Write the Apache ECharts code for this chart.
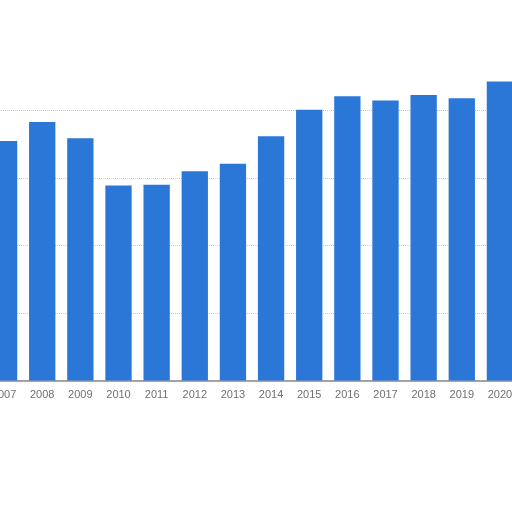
<!DOCTYPE html>
<html><head><meta charset="utf-8">
<script src="https://cdn.jsdelivr.net/npm/echarts@6/dist/echarts.min.js"></script>
<style>html,body{margin:0;padding:0;background:#fff;overflow:hidden;width:512px;height:512px}#c{position:absolute;left:-15px;top:0;width:534px;height:512px}</style>
</head><body><div id="c"></div>
<script>
var categories = ['2007','2008','2009','2010','2011','2012','2013','2014','2015','2016','2017','2018','2019','2020'];
var values = [35.5, 38.3, 35.9, 28.9, 29.0, 31.0, 32.1, 36.2, 40.1, 42.1, 41.5, 42.3, 41.8, 44.3];
var chart = echarts.init(document.getElementById('c'));
chart.setOption({
  animation: false,
  grid: { left: 0, right: 0, top: 110.5, bottom: 131.5, containLabel: false },
  xAxis: {
    type: 'category', data: categories,
    axisLine: { lineStyle: { color: '#888', width: 1.5 } },
    axisTick: { show: false },
    axisLabel: { color: '#707070', fontSize: 11, fontFamily: 'Liberation Sans, Arial', margin: 9 }
  },
  yAxis: {
    type: 'value', min: 0, max: 40, interval: 10,
    axisLabel: { show: false }, axisLine: { show: false }, axisTick: { show: false },
    splitLine: { lineStyle: { color: ['#ccc','#ccc','#ccc','#ccc','#c4c4c4'], type: 'dotted', width: 1 } }
  },
  series: [{
    type: 'bar', data: values, clip: false,
    barCategoryGap: '31%',
    itemStyle: { color: '#2b77d8' }
  }]
});
</script></body></html>
